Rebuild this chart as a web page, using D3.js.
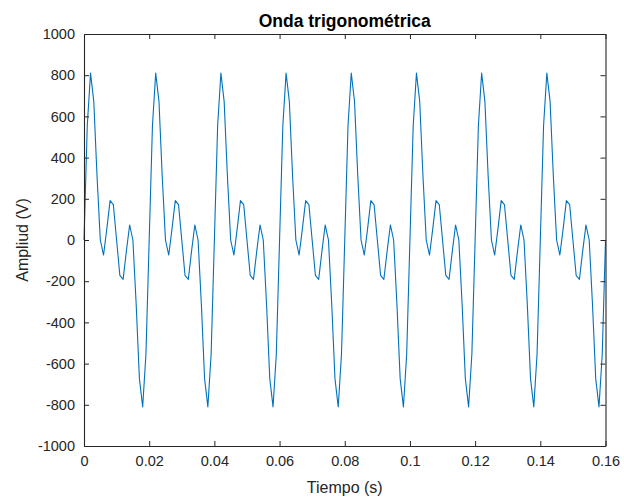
<!DOCTYPE html>
<html>
<head>
<meta charset="utf-8">
<script src="https://cdn.jsdelivr.net/npm/d3@7"></script>
<style>
  body { margin: 0; background: #fff; }
  svg text { font-family: "Liberation Sans", Arial, Helvetica, sans-serif; fill: #262626; }
</style>
</head>
<body>
<div id="chart"></div>
<script>
// sample interval (s) - 1 kHz sampling
var dt = 0.001;

// amplitude samples (V), t = 0 .. 0.16 s
var amplitude = [
  0, 555, 810, 673, 309, 0, -73, 54, 191, 172, 0, -172, -191, -54, 73, 0, -309, -673, -810, -555,
  0, 555, 810, 673, 309, 0, -73, 54, 191, 172, 0, -172, -191, -54, 73, 0, -309, -673, -810, -555,
  0, 555, 810, 673, 309, 0, -73, 54, 191, 172, 0, -172, -191, -54, 73, 0, -309, -673, -810, -555,
  0, 555, 810, 673, 309, 0, -73, 54, 191, 172, 0, -172, -191, -54, 73, 0, -309, -673, -810, -555,
  0, 555, 810, 673, 309, 0, -73, 54, 191, 172, 0, -172, -191, -54, 73, 0, -309, -673, -810, -555,
  0, 555, 810, 673, 309, 0, -73, 54, 191, 172, 0, -172, -191, -54, 73, 0, -309, -673, -810, -555,
  0, 555, 810, 673, 309, 0, -73, 54, 191, 172, 0, -172, -191, -54, 73, 0, -309, -673, -810, -555,
  0, 555, 810, 673, 309, 0, -73, 54, 191, 172, 0, -172, -191, -54, 73, 0, -309, -673, -810, -555,
  0
];

var xTicks = [0, 0.02, 0.04, 0.06, 0.08, 0.1, 0.12, 0.14, 0.16];
var yTicks = [-1000, -800, -600, -400, -200, 0, 200, 400, 600, 800, 1000];

var title = "Onda trigonométrica",
    xLabel = "Tiempo (s)",
    yLabel = "Ampliud (V)";

var width = 624, height = 497;
var margin = {top: 34, right: 18.5, bottom: 51, left: 84};
var iw = width - margin.left - margin.right,
    ih = height - margin.top - margin.bottom;

var svg = d3.select("#chart").append("svg")
    .attr("width", width)
    .attr("height", height);

var g = svg.append("g")
    .attr("transform", "translate(" + margin.left + "," + margin.top + ")");

var x = d3.scaleLinear().domain([0, 0.16]).range([0, iw]);
var y = d3.scaleLinear().domain([-1000, 1000]).range([ih, 0]);

var data = amplitude.map((v, i) => ({t: i * dt, v: v}));

// line first, axes drawn over it
g.append("path")
    .datum(data)
    .attr("fill", "none")
    .attr("stroke", "#0072bd")
    .attr("stroke-width", 1.1)
    .attr("stroke-linejoin", "round")
    .attr("d", d3.line().x(d => x(d.t)).y(d => y(d.v)));

var fmt = d => String(d);
var tickLen = 5;

function styleAxis(sel) {
    sel.selectAll("path.domain").attr("stroke", "#262626");
    sel.selectAll(".tick line").attr("stroke", "#262626");
    sel.selectAll(".tick text")
        .attr("font-size", 14.5)
        .style("fill", "#262626");
}

// bottom + top
g.append("g").attr("transform", "translate(0," + ih + ")")
    .call(d3.axisBottom(x).tickValues(xTicks).tickFormat(fmt).tickSizeInner(-tickLen).tickSizeOuter(0).tickPadding(10))
    .call(styleAxis);
g.append("g")
    .call(d3.axisTop(x).tickValues(xTicks).tickFormat("").tickSizeInner(-tickLen).tickSizeOuter(0))
    .call(styleAxis);

// left + right
g.append("g")
    .call(d3.axisLeft(y).tickValues(yTicks).tickFormat(fmt).tickSizeInner(-tickLen).tickSizeOuter(0).tickPadding(9))
    .call(styleAxis);
g.append("g").attr("transform", "translate(" + iw + ",0)")
    .call(d3.axisRight(y).tickValues(yTicks).tickFormat("").tickSizeInner(-tickLen).tickSizeOuter(0))
    .call(styleAxis);

g.selectAll("path.domain").attr("stroke-width", 1.1);

// title
svg.append("text")
    .attr("x", margin.left + iw / 2)
    .attr("y", 26.5)
    .attr("text-anchor", "middle")
    .attr("font-size", 17.5)
    .attr("font-weight", "bold")
    .style("fill", "#000")
    .text(title);

// x label
svg.append("text")
    .attr("x", margin.left + iw / 2)
    .attr("y", 493)
    .attr("text-anchor", "middle")
    .attr("font-size", 16)
    .text(xLabel);

// y label
svg.append("text")
    .attr("transform", "translate(28," + (margin.top + ih / 2) + ") rotate(-90)")
    .attr("text-anchor", "middle")
    .attr("font-size", 16)
    .text(yLabel);
</script>
</body>
</html>
